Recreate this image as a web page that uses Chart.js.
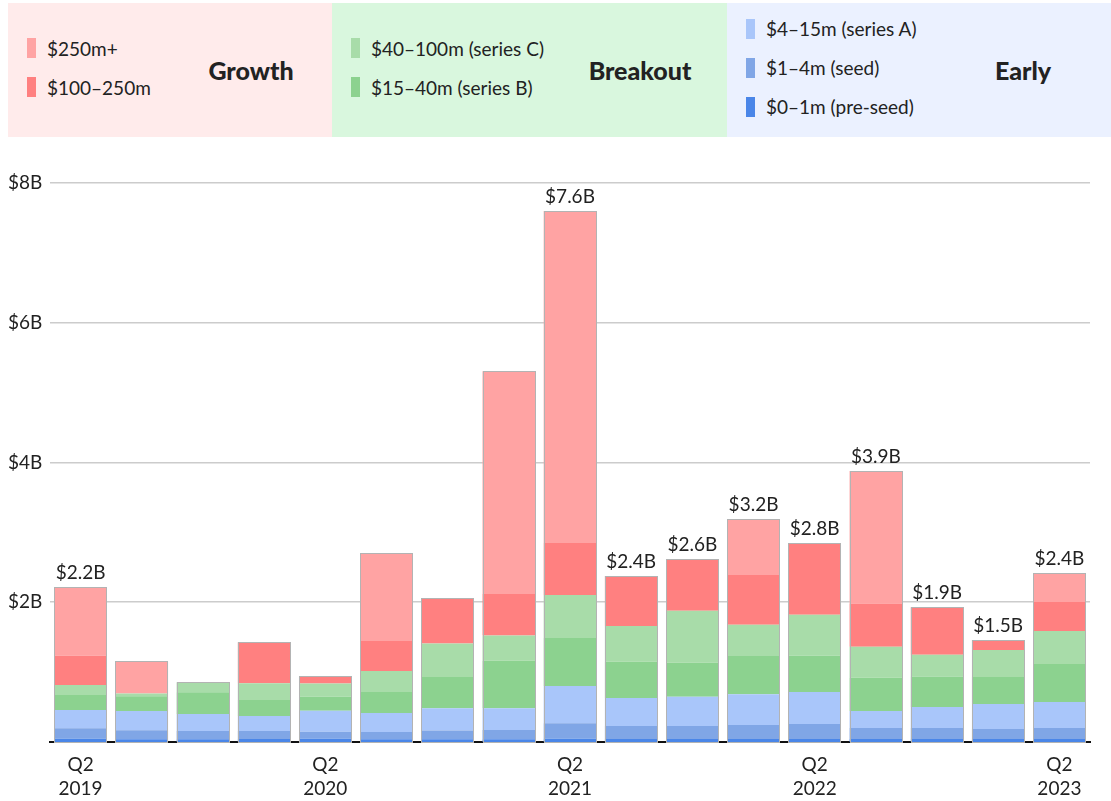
<!DOCTYPE html>
<html>
<head>
<meta charset="utf-8">
<title>Funding by stage</title>
<script src="https://cdn.jsdelivr.net/npm/chart.js@4.4.0/dist/chart.umd.min.js"></script>
<style>
  body { margin: 0; background: #fff; font-family: Lato, "Noto Sans", sans-serif; color: #222; }
  #wrap { position: relative; width: 1111px; height: 801px; overflow: hidden; }
  #chart { position: absolute; left: 0; top: 0; }
  .group { position: absolute; top: 3px; height: 134px; }
  .items { position: absolute; left: 19px; top: 0; bottom: 0; display: flex; flex-direction: column; justify-content: center; padding-bottom: 5px; }
  .item { height: 39px; display: flex; align-items: center; font-size: 19px; white-space: nowrap; }
  .sw { width: 9px; height: 20px; margin-right: 11px; flex: none; }
  .title { position: absolute; top: 50%; transform: translate(-50%, -50%); font-weight: 900; font-size: 25px; }
</style>
</head>
<body>
<div id="wrap">
  <canvas id="chart" width="1111" height="801"></canvas>
  <div id="legend"></div>
</div>
<script>
const quarters = [
  'Q2 2019', 'Q3 2019', 'Q4 2019', 'Q1 2020', 'Q2 2020', 'Q3 2020', 'Q4 2020', 'Q1 2021',
  'Q2 2021', 'Q3 2021', 'Q4 2021', 'Q1 2022', 'Q2 2022', 'Q3 2022', 'Q4 2022', 'Q1 2023', 'Q2 2023'
];

// $ billions per round size, bottom of the stack first
const preSeed  = [0.047, 0.039, 0.039, 0.043, 0.047, 0.039, 0.039, 0.039, 0.047, 0.043, 0.043, 0.043, 0.043, 0.043, 0.043, 0.043, 0.043];
const seed     = [0.15, 0.13, 0.12, 0.114, 0.10, 0.105, 0.124, 0.133, 0.22, 0.186, 0.186, 0.20, 0.215, 0.157, 0.157, 0.143, 0.157];
const seriesA  = [0.26, 0.276, 0.243, 0.215, 0.30, 0.272, 0.32, 0.312, 0.534, 0.40, 0.42, 0.44, 0.456, 0.243, 0.30, 0.358, 0.372];
const seriesB  = [0.215, 0.21, 0.31, 0.229, 0.20, 0.30, 0.448, 0.677, 0.687, 0.52, 0.486, 0.548, 0.52, 0.476, 0.439, 0.386, 0.544];
const seriesC  = [0.143, 0.038, 0.143, 0.239, 0.19, 0.30, 0.477, 0.362, 0.615, 0.51, 0.744, 0.448, 0.587, 0.443, 0.309, 0.386, 0.472];
const mid      = [0.42, 0, 0, 0.587, 0.104, 0.429, 0.649, 0.596, 0.744, 0.715, 0.74, 0.71, 1.02, 0.62, 0.68, 0.144, 0.415];
const late     = [0.98, 0.46, 0, 0, 0, 1.255, 0, 3.185, 4.753, 0, 0, 0.80, 0, 1.897, 0, 0, 0.41];

const series = [preSeed, seed, seriesA, seriesB, seriesC, mid, late];
const seriesNames = ['$0–1m (pre-seed)', '$1–4m (seed)', '$4–15m (series A)', '$15–40m (series B)',
  '$40–100m (series C)', '$100–250m', '$250m+'];
const seriesColors = ['#4a86e8', '#80a6e6', '#a9c6fa', '#8cd28f', '#a8dca9', '#ff8080', '#ffa3a3'];

// legend groups, top row first, indexes into series
const groups = [
  { title: 'Growth', items: [6, 5], left: 8, width: 324, bg: '#ffebeb', titleX: 243 },
  { title: 'Breakout', items: [4, 3], left: 332, width: 395, bg: '#d9f7de', titleX: 308 },
  { title: 'Early', items: [2, 1, 0], left: 727, width: 384, bg: '#ebf1ff', titleX: 296 }
];

const totalLabelled = [0, 8, 9, 10, 11, 12, 13, 14, 15, 16];
const yTicks = [2, 4, 6, 8];

const totals = quarters.map((_, i) => series.reduce((s, arr) => s + arr[i], 0));

// legend boxes
const legend = document.getElementById('legend');
groups.forEach(g => {
  const box = document.createElement('div');
  box.className = 'group';
  box.style.left = g.left + 'px';
  box.style.width = g.width + 'px';
  box.style.background = g.bg;
  const list = document.createElement('div');
  list.className = 'items';
  g.items.forEach(k => {
    const row = document.createElement('div');
    row.className = 'item';
    const sw = document.createElement('span');
    sw.className = 'sw';
    sw.style.background = seriesColors[k];
    row.appendChild(sw);
    row.appendChild(document.createTextNode(seriesNames[k]));
    list.appendChild(row);
  });
  box.appendChild(list);
  const t = document.createElement('div');
  t.className = 'title';
  t.style.left = g.titleX + 'px';
  t.textContent = g.title;
  box.appendChild(t);
  legend.appendChild(box);
});

// outline round each stack plus the total above it
const stackExtras = {
  id: 'stackExtras',
  afterDatasetsDraw(chart) {
    const ctx = chart.ctx;
    const y = chart.scales.y;
    const meta = chart.getDatasetMeta(0);
    ctx.save();
    ctx.strokeStyle = '#b3b3b3';
    ctx.lineWidth = 1;
    meta.data.forEach((el, i) => {
      const w = el.width;
      const top = y.getPixelForValue(totals[i]);
      const bottom = y.getPixelForValue(0);
      ctx.strokeRect(Math.round(el.x - w / 2) + 0.5, Math.round(top) + 0.5, Math.round(w) - 1, bottom - Math.round(top));
    });
    ctx.fillStyle = '#222';
    ctx.font = '19px Lato, "Noto Sans", sans-serif';
    ctx.textAlign = 'center';
    ctx.textBaseline = 'bottom';
    totalLabelled.forEach(i => {
      const el = meta.data[i];
      ctx.fillText('$' + totals[i].toFixed(1) + 'B', el.x, y.getPixelForValue(totals[i]) - 5);
    });
    ctx.restore();
  }
};

Chart.defaults.font.family = 'Lato, "Noto Sans", sans-serif';
Chart.defaults.font.size = 19;
Chart.defaults.color = '#222';

new Chart(document.getElementById('chart'), {
  type: 'bar',
  data: {
    labels: quarters,
    datasets: series.map((arr, k) => ({
      label: seriesNames[k],
      data: arr,
      backgroundColor: seriesColors[k],
      borderWidth: 0,
      barPercentage: 0.86,
      categoryPercentage: 1
    }))
  },
  options: {
    responsive: false,
    animation: false,
    layout: { padding: { top: 148, left: 8, right: 21, bottom: 0 } },
    plugins: { legend: { display: false }, tooltip: { enabled: false } },
    scales: {
      x: {
        stacked: true,
        z: 1,
        grid: { drawOnChartArea: false, drawTicks: false },
        border: { color: '#111', width: 2 },
        ticks: {
          autoSkip: false,
          maxRotation: 0,
          padding: 11,
          font: { size: 19, lineHeight: 1.26 },
          callback: (v, i) => quarters[i].startsWith('Q2') ? quarters[i].split(' ') : ''
        },
        afterFit: s => { s.height = 59; }
      },
      y: {
        stacked: true,
        min: 0,
        max: 8.5,
        afterBuildTicks: s => { s.ticks = yTicks.map(v => ({ value: v })); },
        grid: { color: '#cccccc', lineWidth: 1.5, drawTicks: false },
        border: { display: false },
        ticks: {
          crossAlign: 'far',
          padding: 0,
          callback: v => '$' + v + 'B'
        },
        afterFit: s => { s.width = 42; }
      }
    }
  },
  plugins: [stackExtras]
});
</script>
</body>
</html>
